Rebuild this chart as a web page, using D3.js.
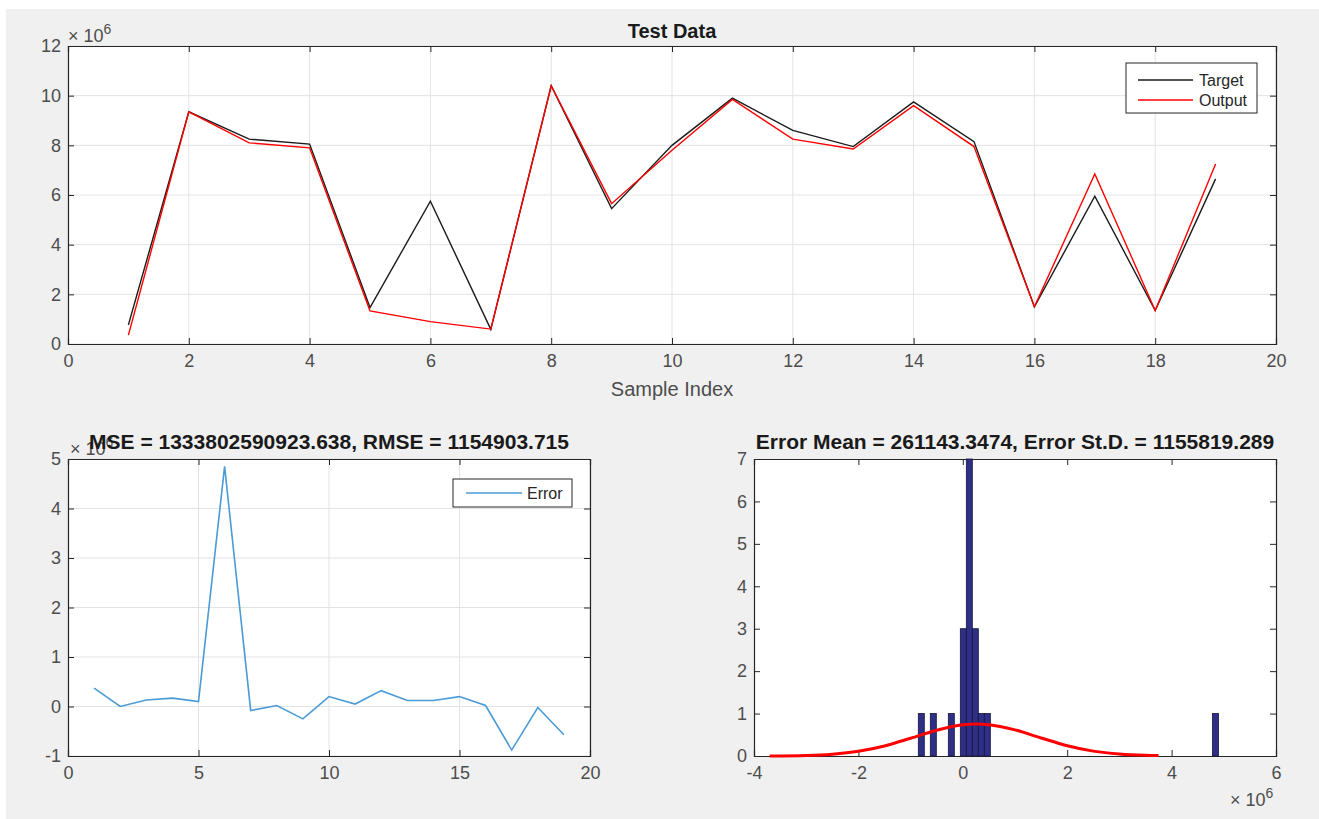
<!DOCTYPE html>
<html><head><meta charset="utf-8">
<script src="https://cdn.jsdelivr.net/npm/d3@7"></script>
<style>
body{margin:0;background:#fff;}
svg{display:block;font-family:"Liberation Sans",Arial,sans-serif;}
</style></head>
<body>
<svg id="c" width="1319" height="819"></svg>
<script>
// ---- data (values in units of 1e6) ----
const sampleIndex = [1,2,3,4,5,6,7,8,9,10,11,12,13,14,15,16,17,18,19];
const target = [0.77,9.35,8.25,8.05,1.47,5.75,0.59,10.4,5.45,8.0,9.9,8.6,7.95,9.75,8.15,1.5,5.95,1.35,6.65];
const output = [0.36,9.35,8.1,7.9,1.33,0.9,0.6,10.4,5.65,7.8,9.85,8.25,7.85,9.6,7.95,1.5,6.85,1.35,7.25];
const errorVals = [0.37,0.0,0.13,0.17,0.1,4.85,-0.08,0.02,-0.25,0.2,0.05,0.32,0.12,0.12,0.2,0.02,-0.88,-0.02,-0.57];
const histCenters = [-0.795,-0.565,-0.22,0.01,0.125,0.24,0.355,0.47,4.84];
const histCounts = [1,1,1,3,7,3,1,1,1];
const histBinWidth = 0.115;
const fitX = [-3.7,-3.0,-2.5,-2.0,-1.5,-1.0,-0.5,0.0,0.26,0.5,1.0,1.5,2.0,2.5,3.0,3.5,3.75];
const fitY = [0.002,0.014,0.044,0.112,0.237,0.417,0.608,0.736,0.755,0.739,0.615,0.424,0.243,0.115,0.045,0.015,0.009];
const topXTicks = [0,2,4,6,8,10,12,14,16,18,20];
const topYTicks = [0,2,4,6,8,10,12];
const blXTicks = [0,5,10,15,20];
const blYTicks = [-1,0,1,2,3,4,5];
const brXTicks = [-4,-2,0,2,4,6];
const brYTicks = [0,1,2,3,4,5,6,7];
const titleTop = "Test Data";
const titleBL = "MSE = 1333802590923.638, RMSE = 1154903.715";
const titleBR = "Error Mean = 261143.3474, Error St.D. = 1155819.289";

const svg = d3.select("#c");
const AX = "#262626", GRID = "#e3e3e3", TXT = "#4d4d4d";
const fmt = d => String(d).replace("\u2212","-");
svg.append("rect").attr("x",6).attr("y",9).attr("width",1313).attr("height",810).attr("fill","#f0f0f0");

function panel(o){
  const g = svg.append("g");
  const x = d3.scaleLinear().domain(o.xd).range([o.l,o.r]);
  const y = d3.scaleLinear().domain(o.yd).range([o.b,o.t]);
  g.append("rect").attr("x",o.l).attr("y",o.t).attr("width",o.r-o.l).attr("height",o.b-o.t).attr("fill","#fff");
  if(o.grid){
    g.selectAll(".gx").data(o.xt).join("line").attr("x1",d=>x(d)).attr("x2",d=>x(d)).attr("y1",o.t).attr("y2",o.b).attr("stroke",GRID).attr("stroke-width",1);
    g.selectAll(".gy").data(o.yt).join("line").attr("y1",d=>y(d)).attr("y2",d=>y(d)).attr("x1",o.l).attr("x2",o.r).attr("stroke",GRID).attr("stroke-width",1);
  }
  const tl = 6;
  const ax = (axis, tr) => {
    const a = g.append("g").attr("transform",tr).call(axis);
    a.select(".domain").attr("stroke",AX).attr("stroke-width",1.2);
    a.selectAll(".tick line").attr("stroke",AX);
    a.selectAll("text").attr("fill",TXT).style("font-size","18px").style("font-family","'Liberation Sans',Arial,sans-serif");
    return a;
  };
  ax(d3.axisBottom(x).tickValues(o.xt).tickSize(-tl).tickPadding(10).tickFormat(fmt), `translate(0,${o.b})`);
  ax(d3.axisTop(x).tickValues(o.xt).tickSize(-tl).tickFormat(""), `translate(0,${o.t})`);
  ax(d3.axisLeft(y).tickValues(o.yt).tickSize(-tl).tickPadding(7).tickFormat(fmt), `translate(${o.l},0)`);
  ax(d3.axisRight(y).tickValues(o.yt).tickSize(-tl).tickFormat(""), `translate(${o.r},0)`);
  return {g,x,y};
}

function expLabel(g, xx, yy){
  const t = g.append("text").attr("x",xx).attr("y",yy).attr("fill",TXT).style("font-size","18px");
  t.append("tspan").text("\u00d7 10");
  t.append("tspan").attr("dy",-8).style("font-size","14px").text("6");
}

// ---- Top panel ----
const P1 = panel({l:68,r:1276,t:46,b:344,xd:[0,20],yd:[0,12],xt:topXTicks,yt:topYTicks,grid:true});
const line1 = d3.line().x((d,i)=>P1.x(sampleIndex[i])).y(d=>P1.y(d));
P1.g.append("path").datum(target).attr("d",line1).attr("fill","none").attr("stroke","#1a1a1a").attr("stroke-width",1.4);
P1.g.append("path").datum(output).attr("d",line1).attr("fill","none").attr("stroke","#ff0000").attr("stroke-width",1.4);
expLabel(P1.g, 68, 42);
svg.append("text").attr("x",672).attr("y",38).attr("text-anchor","middle").attr("font-weight","bold").style("font-size","20px").attr("fill","#1a1a1a").text(titleTop);
svg.append("text").attr("x",672).attr("y",396).attr("text-anchor","middle").style("font-size","20px").attr("fill",TXT).text("Sample Index");
// legend
const lg = svg.append("g");
lg.append("rect").attr("x",1126).attr("y",63).attr("width",131).attr("height",50).attr("fill","#fff").attr("stroke",AX).attr("stroke-width",1);
[["Target","#1a1a1a",80],["Output","#ff0000",100]].forEach(([n,c,yy])=>{
  lg.append("line").attr("x1",1138).attr("x2",1193).attr("y1",yy).attr("y2",yy).attr("stroke",c).attr("stroke-width",1.4);
  lg.append("text").attr("x",1199).attr("y",yy+6).style("font-size","16px").attr("fill","#262626").text(n);
});

// ---- Bottom-left panel ----
const P2 = panel({l:68,r:590,t:459,b:756,xd:[0,20],yd:[-1,5],xt:blXTicks,yt:blYTicks,grid:true});
const line2 = d3.line().x((d,i)=>P2.x(sampleIndex[i])).y(d=>P2.y(d));
P2.g.append("path").datum(errorVals).attr("d",line2).attr("fill","none").attr("stroke","#4a9bd6").attr("stroke-width",1.6);
expLabel(P2.g, 70, 455);
svg.append("text").attr("x",329).attr("y",449).attr("text-anchor","middle").attr("font-weight","bold").style("font-size","21px").attr("fill","#1a1a1a").text(titleBL);
const lg2 = svg.append("g");
lg2.append("rect").attr("x",453).attr("y",479).attr("width",119).attr("height",28).attr("fill","#fff").attr("stroke",AX).attr("stroke-width",1);
lg2.append("line").attr("x1",466).attr("x2",522).attr("y1",493).attr("y2",493).attr("stroke","#4a9bd6").attr("stroke-width",1.6);
lg2.append("text").attr("x",527).attr("y",499).style("font-size","16px").attr("fill","#262626").text("Error");

// ---- Bottom-right panel ----
const P3 = panel({l:754,r:1276,t:459,b:756,xd:[-4,6],yd:[0,7],xt:brXTicks,yt:brYTicks,grid:false});
P3.g.selectAll(".bar").data(histCenters).join("rect")
  .attr("x",d=>P3.x(d-histBinWidth/2)).attr("width",d=>P3.x(d+histBinWidth/2)-P3.x(d-histBinWidth/2))
  .attr("y",(d,i)=>P3.y(histCounts[i])).attr("height",(d,i)=>P3.y(0)-P3.y(histCounts[i]))
  .attr("fill","#2f2f87").attr("stroke","#15153a").attr("stroke-width",0.8);
const line3 = d3.line().x((d,i)=>P3.x(fitX[i])).y(d=>P3.y(d)).curve(d3.curveMonotoneX);
P3.g.append("path").datum(fitY).attr("d",line3).attr("fill","none").attr("stroke","#ff0000").attr("stroke-width",3);
expLabel(P3.g, 1230, 806);
svg.append("text").attr("x",1015).attr("y",449).attr("text-anchor","middle").attr("font-weight","bold").style("font-size","21px").attr("fill","#1a1a1a").text(titleBR);
</script>
</body></html>
